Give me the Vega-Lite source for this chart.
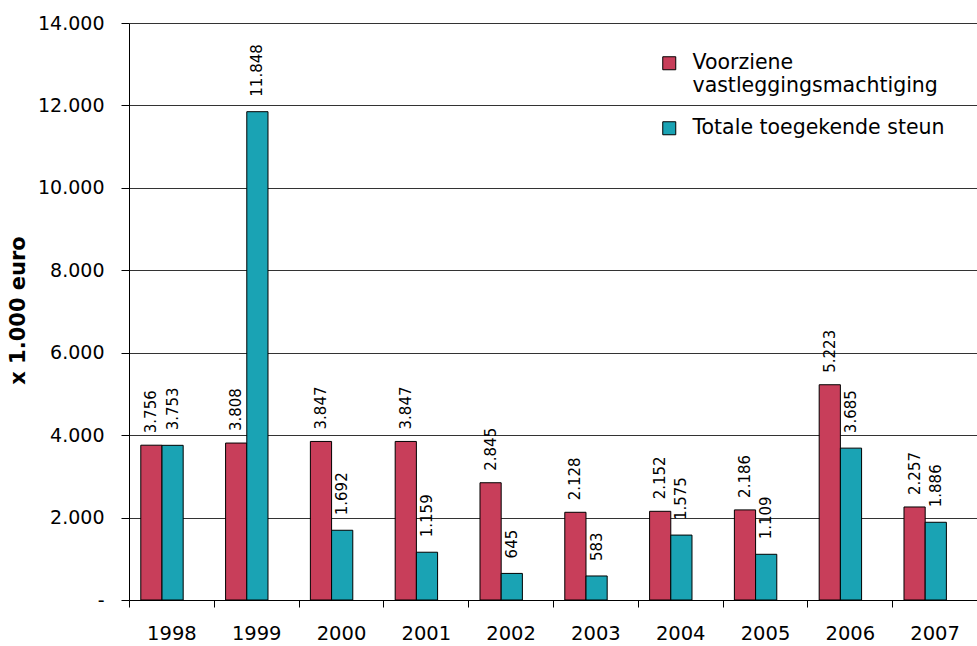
{
  "$schema": "https://vega.github.io/schema/vega-lite/v6.json",
  "width": 848,
  "height": 577,
  "autosize": {"type": "none"},
  "padding": {"left": 129, "top": 23, "right": 0, "bottom": 46},
  "config": {
    "view": {"stroke": null},
    "font": "DejaVu Sans",
    "locale": {"number": {"decimal": ",", "thousands": ".", "grouping": [3], "currency": ["€", ""]}}
  },
  "data": {
    "values": [
      {"jaar": "1998", "reeks": "Voorziene vastleggingsmachtiging", "waarde": 3756},
      {"jaar": "1998", "reeks": "Totale toegekende steun", "waarde": 3753},
      {"jaar": "1999", "reeks": "Voorziene vastleggingsmachtiging", "waarde": 3808},
      {"jaar": "1999", "reeks": "Totale toegekende steun", "waarde": 11848},
      {"jaar": "2000", "reeks": "Voorziene vastleggingsmachtiging", "waarde": 3847},
      {"jaar": "2000", "reeks": "Totale toegekende steun", "waarde": 1692},
      {"jaar": "2001", "reeks": "Voorziene vastleggingsmachtiging", "waarde": 3847},
      {"jaar": "2001", "reeks": "Totale toegekende steun", "waarde": 1159},
      {"jaar": "2002", "reeks": "Voorziene vastleggingsmachtiging", "waarde": 2845},
      {"jaar": "2002", "reeks": "Totale toegekende steun", "waarde": 645},
      {"jaar": "2003", "reeks": "Voorziene vastleggingsmachtiging", "waarde": 2128},
      {"jaar": "2003", "reeks": "Totale toegekende steun", "waarde": 583},
      {"jaar": "2004", "reeks": "Voorziene vastleggingsmachtiging", "waarde": 2152},
      {"jaar": "2004", "reeks": "Totale toegekende steun", "waarde": 1575},
      {"jaar": "2005", "reeks": "Voorziene vastleggingsmachtiging", "waarde": 2186},
      {"jaar": "2005", "reeks": "Totale toegekende steun", "waarde": 1109},
      {"jaar": "2006", "reeks": "Voorziene vastleggingsmachtiging", "waarde": 5223},
      {"jaar": "2006", "reeks": "Totale toegekende steun", "waarde": 3685},
      {"jaar": "2007", "reeks": "Voorziene vastleggingsmachtiging", "waarde": 2257},
      {"jaar": "2007", "reeks": "Totale toegekende steun", "waarde": 1886}
    ]
  },
  "encoding": {
    "x": {
      "field": "jaar",
      "type": "nominal",
      "scale": {"paddingInner": 0, "paddingOuter": 0},
      "axis": {
        "title": null,
        "labelAngle": 0,
        "labelFont": "DejaVu Sans",
        "labelFontSize": 19.5,
        "labelColor": "black",
        "labelPadding": 17,
        "tickBand": "extent",
        "tickSize": 7,
        "tickColor": "black",
        "domainColor": "black",
        "grid": false
      }
    },
    "xOffset": {
      "field": "reeks",
      "type": "nominal",
      "scale": {
        "domain": ["Voorziene vastleggingsmachtiging", "Totale toegekende steun"],
        "paddingInner": 0,
        "paddingOuter": 1.23,
        "align": 0.278
      }
    },
    "y": {
      "field": "waarde",
      "type": "quantitative",
      "scale": {"domain": [0, 14000], "nice": false},
      "axis": {
        "values": [0, 2000, 4000, 6000, 8000, 10000, 12000, 14000],
        "format": ",d",
        "labelExpr": "datum.value === 0 ? '-' : datum.label",
        "labelFont": "DejaVu Sans",
        "labelFontSize": 19,
        "labelColor": "black",
        "labelPadding": 17,
        "tickSize": 8,
        "tickColor": "black",
        "domainColor": "black",
        "grid": true,
        "gridColor": "#333333",
        "gridOpacity": 1,
        "title": "x 1.000 euro",
        "titleFont": "DejaVu Sans",
        "titleFontWeight": "bold",
        "titleFontSize": 21,
        "titleColor": "black",
        "titleAngle": 270,
        "titleX": -111,
        "titleY": 287,
        "titleAlign": "center",
        "titleBaseline": "middle"
      }
    }
  },
  "layer": [
    {
      "mark": {"type": "bar", "stroke": "black", "strokeWidth": 1},
      "encoding": {
        "color": {
          "field": "reeks",
          "type": "nominal",
          "scale": {
            "domain": ["Voorziene vastleggingsmachtiging", "Totale toegekende steun"],
            "range": ["#C83E5A", "#1AA3B4"]
          },
          "legend": {
            "orient": "none",
            "legendX": 530,
            "legendY": 30,
            "title": null,
            "symbolType": "square",
            "symbolSize": 169,
            "symbolStrokeColor": "black",
            "symbolStrokeWidth": 1,
            "symbolOpacity": 1,
            "labelFont": "DejaVu Sans",
            "labelFontSize": 20.5,
            "labelColor": "black",
            "labelOffset": 13,
            "labelLimit": 400,
            "rowPadding": 21,
            "labelExpr": "datum.label == 'Voorziene vastleggingsmachtiging' ? ['Voorziene', 'vastleggingsmachtiging'] : datum.label"
          }
        }
      }
    },
    {
      "transform": [{"filter": "datum.reeks == 'Voorziene vastleggingsmachtiging'"}],
      "mark": {"type": "text", "angle": 270, "align": "left", "baseline": "middle", "dx": 12, "font": "DejaVu Sans", "fontSize": 15, "color": "black"},
      "encoding": {"text": {"field": "waarde", "type": "quantitative", "format": ",d"}}
    },
    {
      "transform": [{"filter": "datum.reeks == 'Totale toegekende steun'"}],
      "mark": {"type": "text", "angle": 270, "align": "left", "baseline": "middle", "dx": 15, "font": "DejaVu Sans", "fontSize": 15, "color": "black"},
      "encoding": {"text": {"field": "waarde", "type": "quantitative", "format": ",d"}}
    }
  ]
}
